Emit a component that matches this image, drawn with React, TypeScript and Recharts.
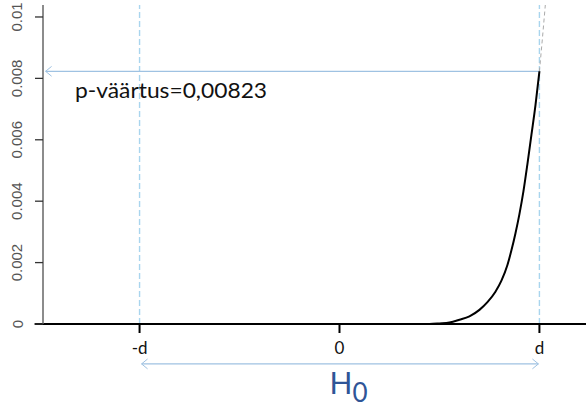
import React from 'react';
import { LineChart, Line, XAxis, YAxis, ReferenceLine, ReferenceDot } from 'recharts';

// density curve (x in units of d)
const curveX = [0.4, 0.45, 0.5, 0.55, 0.6, 0.65, 0.7, 0.74, 0.78, 0.81, 0.84, 0.86, 0.88, 0.9, 0.92, 0.94, 0.96, 0.98, 1.0];
const curveY = [0, 0, 0.00002, 0.00005, 0.00014, 0.00025, 0.00046, 0.00071, 0.00105, 0.00141, 0.00192, 0.0024, 0.00295, 0.00358, 0.00432, 0.00521, 0.00616, 0.00711, 0.00823];
// continuation beyond d (dashed grey)
const tailX = [1.0, 1.015, 1.031];
const tailY = [0.00823, 0.0093, 0.0105];

const xTicks = [-1, 0, 1];
const xTickLabels = ['-d', '0', 'd'];
const yTicks = [0, 0.002, 0.004, 0.006, 0.008, 0.01];
const dValue = 1;
const pValue = 0.00823;
const pLabel = 'p-väärtus=0,00823';
const hLabel = 'H';
const hSub = '0';

const X_DOMAIN: [number, number] = [-1.483, 1.233];
const Y_DOMAIN: [number, number] = [0, 0.01039];

const curveData = curveX.map((x, i) => ({ x, y: curveY[i] }));
const tailData = tailX.map((x, i) => ({ x, y: tailY[i] }));

const FONT = 'Lato, "Open Sans", sans-serif';
const ARROW = '#9FC2E2';
const VDASH = '#A9D5EE';

const YTick = (props: any) => {
  const { x, y, payload } = props;
  const cx = x - 16;
  return (
    <text
      x={cx}
      y={y}
      transform={`rotate(-90 ${cx} ${y})`}
      textAnchor="middle"
      dominantBaseline="central"
      fontFamily='"Liberation Sans", Arial, sans-serif'
      fontSize={15}
      fill="#555"
    >
      {String(payload.value)}
    </text>
  );
};

const XTick = (props: any) => {
  const { x, y, payload } = props;
  const idx = xTicks.indexOf(payload.value);
  return (
    <text x={x} y={y + 12} textAnchor="middle" dominantBaseline="central" fontFamily={FONT} fontSize={17} fill="#111">
      {idx >= 0 ? xTickLabels[idx] : ''}
    </text>
  );
};

const PText = (props: any) => {
  const vb = props.viewBox || {};
  const cx = vb.x + (vb.width || 0) / 2;
  const cy = vb.y + (vb.height || 0) / 2;
  return (
    <text x={cx} y={cy} textAnchor="start" fontFamily={FONT} fontSize={21} fill="#111" textLength={192} lengthAdjust="spacingAndGlyphs">
      {pLabel}
    </text>
  );
};

const HText = (props: any) => {
  const vb = props.viewBox || {};
  const cx = vb.x + (vb.width || 0) / 2;
  const cy = vb.y + (vb.height || 0) / 2;
  return (
    <text x={cx} y={cy} textAnchor="middle" fontFamily={FONT} fontSize={30} fill="#2F5597">
      {hLabel}
      <tspan dy={8} fontSize={26}>{hSub}</tspan>
    </text>
  );
};

// arrow geometry in data units
const ax = 0.03;
const ay = 0.00016;
const hArrowLeft = -1.47;
const h0Y = -0.0013;
const h0Left = -0.99;
const h0Right = 0.995;

export default function App() {
  return (
    <div style={{ position: 'absolute', left: 0, top: 0, background: '#fff' }}>
      <LineChart width={586} height={408} margin={{ top: 5, right: 0, bottom: 0, left: 0 }}>
        <XAxis
          type="number"
          dataKey="x"
          domain={X_DOMAIN}
          allowDataOverflow
          ticks={xTicks}
          interval={0}
          height={84}
          axisLine={{ stroke: '#000', strokeWidth: 2 }}
          tickLine={{ stroke: '#000', strokeWidth: 2 }}
          tickSize={9}
          tick={<XTick />}
        />
        <YAxis
          type="number"
          domain={Y_DOMAIN}
          allowDataOverflow
          ticks={yTicks}
          interval={0}
          width={43}
          axisLine={{ stroke: '#666', strokeWidth: 1.5 }}
          tickLine={{ stroke: '#333', strokeWidth: 1.3 }}
          tickSize={8}
          tick={<YTick />}
        />
        <ReferenceLine x={-dValue} stroke={VDASH} strokeWidth={1.4} strokeDasharray="6 3" />
        <ReferenceLine x={dValue} stroke={VDASH} strokeWidth={1.4} strokeDasharray="6 3" />
        <ReferenceLine
          segment={[{ x: -1.525, y: 0 }, { x: -1.483, y: 0 }]}
          stroke="#000"
          strokeWidth={2}
          ifOverflow="visible"
        />
        {/* p-value arrow */}
        <ReferenceLine segment={[{ x: dValue, y: pValue }, { x: hArrowLeft, y: pValue }]} stroke={ARROW} strokeWidth={1.2} ifOverflow="visible" />
        <ReferenceLine segment={[{ x: hArrowLeft, y: pValue }, { x: hArrowLeft + ax, y: pValue + ay }]} stroke={ARROW} strokeWidth={1} ifOverflow="visible" />
        <ReferenceLine segment={[{ x: hArrowLeft, y: pValue }, { x: hArrowLeft + ax, y: pValue - ay }]} stroke={ARROW} strokeWidth={1} ifOverflow="visible" />
        {/* H0 double arrow */}
        <ReferenceLine segment={[{ x: h0Left, y: h0Y }, { x: h0Right, y: h0Y }]} stroke={ARROW} strokeWidth={1.2} ifOverflow="visible" />
        <ReferenceLine segment={[{ x: h0Left, y: h0Y }, { x: h0Left + ax, y: h0Y + ay }]} stroke={ARROW} strokeWidth={1} ifOverflow="visible" />
        <ReferenceLine segment={[{ x: h0Left, y: h0Y }, { x: h0Left + ax, y: h0Y - ay }]} stroke={ARROW} strokeWidth={1} ifOverflow="visible" />
        <ReferenceLine segment={[{ x: h0Right, y: h0Y }, { x: h0Right - ax, y: h0Y + ay }]} stroke={ARROW} strokeWidth={1} ifOverflow="visible" />
        <ReferenceLine segment={[{ x: h0Right, y: h0Y }, { x: h0Right - ax, y: h0Y - ay }]} stroke={ARROW} strokeWidth={1} ifOverflow="visible" />
        <Line
          data={tailData}
          dataKey="y"
          type="linear"
          stroke="#aaa"
          strokeWidth={1}
          strokeDasharray="4 3"
          dot={false}
          isAnimationActive={false}
        />
        <Line
          data={curveData}
          dataKey="y"
          type="monotone"
          stroke="#000"
          strokeWidth={2}
          dot={false}
          isAnimationActive={false}
        />
        <ReferenceDot x={-1.3225} y={0.00737} r={1} fill="none" stroke="none" ifOverflow="visible" label={<PText />} />
        <ReferenceDot x={0.045} y={-0.00228} r={1} fill="none" stroke="none" ifOverflow="visible" label={<HText />} />
      </LineChart>
    </div>
  );
}
